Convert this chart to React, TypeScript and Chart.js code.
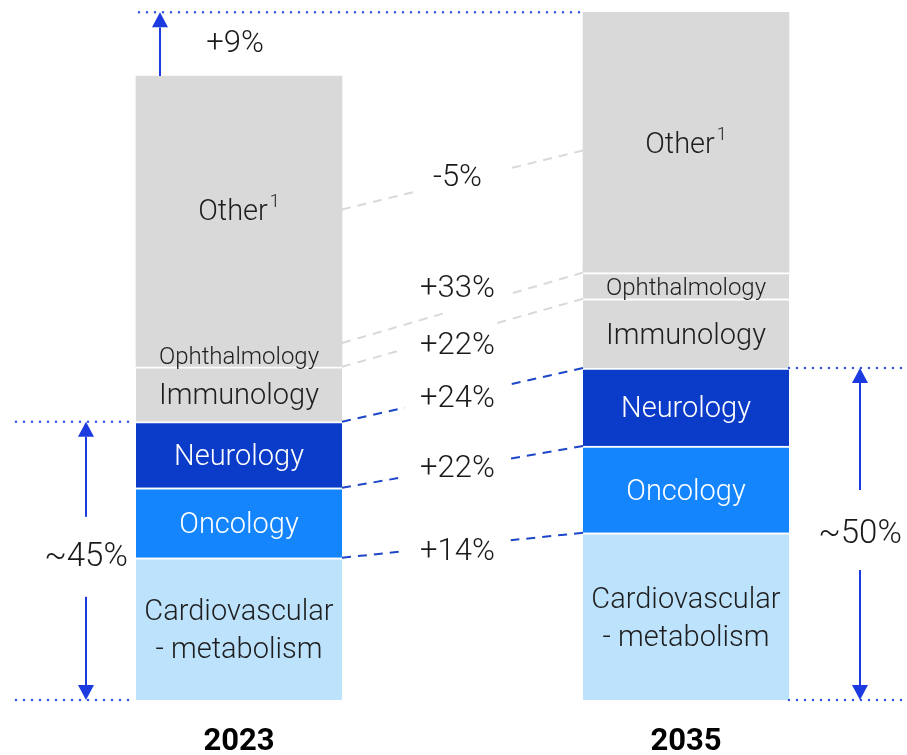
import React, { useEffect, useRef } from 'react';
import { Chart, registerables } from 'chart.js';

Chart.register(...registerables);

// ---- data ----
const years = [2023, 2035];
const segmentNames = ['Cardiovascular\n- metabolism', 'Oncology', 'Neurology', 'Immunology', 'Ophthalmology', 'Other'];
const cardioValues = [22.8, 26.8];
const oncologyValues = [11.2, 13.9];
const neurologyValues = [10.6, 12.5];
const immunologyValues = [8.8, 11.1];
const ophthalmologyValues = [3.8, 4.2];
const otherValues = [42.8, 41.7];
const growthLabels = ['+14%', '+22%', '+24%', '+22%', '+33%', '-5%'];
const totalGrowthLabel = '+9%';
const shareLabels = ['~45%', '~50%'];

// ---- styles ----
const segmentColors = ['#BDE2FC', '#1585FE', '#0B3CC9', '#D9D9D9', '#D9D9D9', '#D9D9D9'];
const segmentTextColors = ['#1E1E1E', '#FFFFFF', '#FFFFFF', '#1E1E1E', '#1E1E1E', '#1E1E1E'];
const connectorColors = ['#1E46C8', '#1E46C8', '#1E46C8', '#D9D9D9', '#D9D9D9', '#D9D9D9'];
const connectorGaps = [[0.25, 0.7], [0.25, 0.7], [0.26, 0.69], [0.25, 0.625], [0.42, 0.7], [0.3, 0.7]];
const growthLabelDy = [7, 2, 4, 13, -19, -2];
const ARROW = '#1B3AE0';
const DOT = '#3355DD';
const FONT = 'Roboto';
const TEXT_DY = 3;

const seriesValues = [cardioValues, oncologyValues, neurologyValues, immunologyValues, ophthalmologyValues, otherValues];

function dotted(ctx: CanvasRenderingContext2D, x1: number, x2: number, y: number) {
  ctx.save();
  ctx.strokeStyle = DOT;
  ctx.lineWidth = 2.5;
  ctx.lineCap = 'round';
  ctx.setLineDash([0, 8]);
  ctx.beginPath();
  ctx.moveTo(x1, y);
  ctx.lineTo(x2, y);
  ctx.stroke();
  ctx.restore();
}

function arrow(ctx: CanvasRenderingContext2D, x: number, yFrom: number, yTip: number) {
  const dir = yTip < yFrom ? -1 : 1;
  const head = 15;
  ctx.save();
  ctx.strokeStyle = ARROW;
  ctx.fillStyle = ARROW;
  ctx.lineWidth = 2;
  ctx.beginPath();
  ctx.moveTo(x, yFrom);
  ctx.lineTo(x, yTip - dir * head);
  ctx.stroke();
  ctx.beginPath();
  ctx.moveTo(x, yTip);
  ctx.lineTo(x - 8, yTip - dir * head);
  ctx.lineTo(x + 8, yTip - dir * head);
  ctx.closePath();
  ctx.fill();
  ctx.restore();
}

const overlayPlugin = {
  id: 'overlay',
  afterDatasetsDraw(chart: any) {
    const ctx: CanvasRenderingContext2D = chart.ctx;
    const area = chart.chartArea;
    const el = (d: number, j: number) => chart.getDatasetMeta(d).data[j].getProps(['x', 'y', 'base', 'width'], true);
    const b0 = el(0, 0);
    const b1 = el(0, 1);
    const left0 = b0.x - b0.width / 2;
    const right0 = b0.x + b0.width / 2;
    const left1 = b1.x - b1.width / 2;
    const right1 = b1.x + b1.width / 2;
    const base = b0.base;
    ctx.save();

    // segment labels
    ctx.textAlign = 'center';
    ctx.textBaseline = 'middle';
    segmentNames.forEach((name, d) => {
      years.forEach((_, j) => {
        const e = el(d, j);
        const cx = e.x;
        const cy = (e.y + e.base) / 2 + TEXT_DY;
        ctx.fillStyle = segmentTextColors[d];
        const size = d === 4 ? 24 : 29;
        ctx.font = `300 ${size}px ${FONT}`;
        if (d === 5) {
          const w1 = ctx.measureText(name).width;
          ctx.font = `300 18px ${FONT}`;
          const w2 = ctx.measureText('1').width;
          const startX = cx - (w1 + w2 + 2) / 2;
          ctx.textAlign = 'left';
          ctx.font = `300 ${size}px ${FONT}`;
          ctx.fillText(name, startX, cy);
          ctx.font = `300 18px ${FONT}`;
          ctx.fillText('1', startX + w1 + 2, cy - 10);
          ctx.textAlign = 'center';
        } else {
          const lines = name.split('\n');
          const lh = 38;
          lines.forEach((ln, k) => {
            ctx.fillText(ln, cx, cy + (k - (lines.length - 1) / 2) * lh);
          });
        }
      });
    });

    // connectors
    const midX = (right0 + left1) / 2 - 5;
    segmentNames.forEach((_, d) => {
      const e0 = el(d, 0);
      const e1 = el(d, 1);
      const ly = d === 5 ? (e0.y + e0.base) / 2 : e0.y;
      const ry = d === 5 ? (e1.y + e1.base) / 2 + 8 : e1.y;
      const [g0, g1] = connectorGaps[d];
      const px = (t: number) => right0 + t * (left1 - right0);
      const py = (t: number) => ly + t * (ry - ly);
      ctx.save();
      ctx.strokeStyle = connectorColors[d];
      ctx.lineWidth = 2;
      ctx.setLineDash([9, 7]);
      ctx.beginPath();
      ctx.moveTo(px(0), py(0));
      ctx.lineTo(px(g0), py(g0));
      ctx.stroke();
      ctx.beginPath();
      ctx.moveTo(px(1), py(1));
      ctx.lineTo(px(g1), py(g1));
      ctx.stroke();
      ctx.restore();
      ctx.fillStyle = '#1A1A1A';
      ctx.font = `300 31px ${FONT}`;
      ctx.fillText(growthLabels[d], midX, (ly + ry) / 2 + growthLabelDy[d]);
    });

    // share brackets
    const top0 = el(2, 0).y;
    const top1 = el(2, 1).y;
    const ax0 = left0 - 50;
    const ax1 = right1 + 71;
    dotted(ctx, area.left + 16, left0, top0);
    dotted(ctx, area.left + 16, left0, base);
    dotted(ctx, right1, area.right, top1);
    dotted(ctx, right1, area.right, base);
    const c0 = (top0 + base) / 2 - 4;
    const c1 = (top1 + base) / 2 - 4;
    arrow(ctx, ax0, c0 - 40, top0);
    arrow(ctx, ax0, c0 + 40, base);
    arrow(ctx, ax1, c1 - 40, top1);
    arrow(ctx, ax1, c1 + 40, base);
    ctx.fillStyle = '#1A1A1A';
    ctx.font = `300 33px ${FONT}`;
    ctx.fillText(shareLabels[0], ax0, c0 + 1);
    ctx.fillText(shareLabels[1], ax1, c1 + 5);

    // total growth
    const tot0 = el(5, 0).y;
    const tot1 = el(5, 1).y;
    dotted(ctx, left0 + 3, left1, tot1);
    arrow(ctx, left0 + 24, tot0, tot1);
    ctx.fillStyle = '#1A1A1A';
    ctx.font = `300 31px ${FONT}`;
    ctx.fillText(totalGrowthLabel, b0.x - 4, (tot0 + tot1) / 2);

    ctx.restore();
  },
};

export default function App() {
  const ref = useRef<HTMLCanvasElement>(null);
  useEffect(() => {
    const chart = new Chart(ref.current as HTMLCanvasElement, {
      type: 'bar',
      data: {
        datasets: seriesValues.map((vals, d) => ({
          label: segmentNames[d],
          data: years.map((yr, j) => ({ x: yr, y: vals[j] })),
          backgroundColor: segmentColors[d],
          borderColor: '#FFFFFF',
          borderWidth: (c: any) => ({
            top: c.datasetIndex === 5 || (c.datasetIndex === 4 && c.dataIndex === 0) ? 0 : 2,
            left: 0,
            right: 0,
            bottom: 0,
          }),
          borderSkipped: false,
          barThickness: 206,
        })),
      },
      options: {
        animation: false,
        responsive: true,
        maintainAspectRatio: false,
        layout: { padding: 0 },
        plugins: { legend: { display: false }, tooltip: { enabled: false } },
        scales: {
          x: {
            type: 'linear',
            stacked: true,
            offset: false,
            min: 2016.584,
            max: 2040.933,
            grid: { display: false, drawTicks: false, offset: false },
            border: { display: false },
            afterBuildTicks: (scale: any) => {
              scale.ticks = years.map((v) => ({ value: v }));
            },
            afterFit: (scale: any) => {
              scale.height = 55;
            },
            ticks: {
              padding: 24,
              color: '#000000',
              font: { family: FONT, weight: 'bold', size: 31 },
              callback: (v: any) => String(v),
            },
          },
          y: {
            stacked: true,
            display: false,
            min: 0,
            max: 112.18,
          },
        },
      } as any,
      plugins: [overlayPlugin],
    });
    return () => chart.destroy();
  }, []);
  return (
    <div style={{ position: 'absolute', left: 0, top: 0, width: 907, height: 755, background: '#FFFFFF' }}>
      <canvas ref={ref} />
    </div>
  );
}
